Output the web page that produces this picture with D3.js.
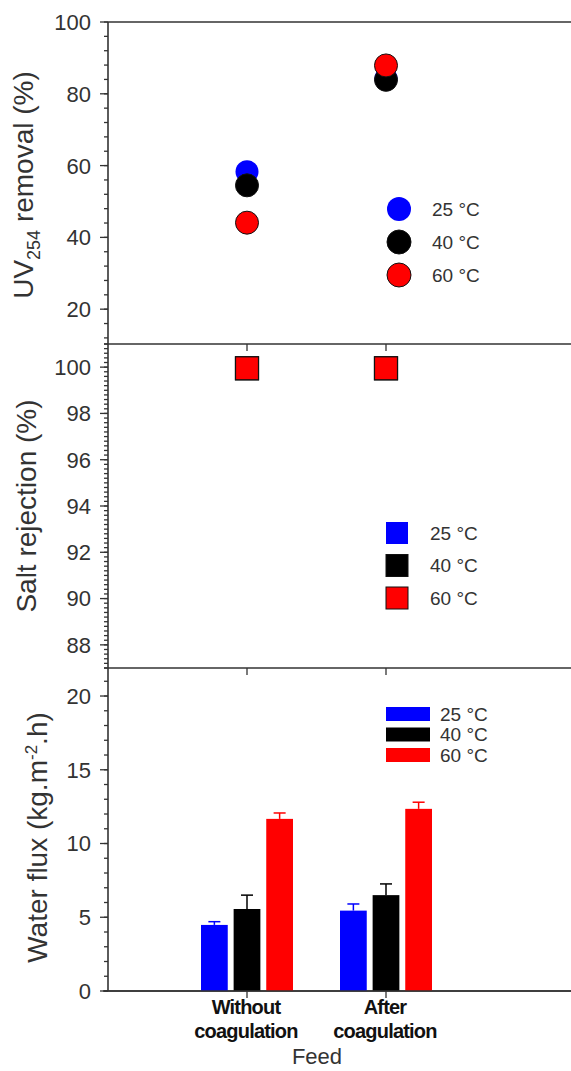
<!DOCTYPE html>
<html>
<head>
<meta charset="utf-8">
<script src="https://d3js.org/d3.v7.min.js"></script>
<style>
  body { margin: 0; background: #fff; }
  svg { display: block; font-family: "Liberation Sans", Arial, sans-serif; }
</style>
</head>
<body>
<div id="chart"></div>
<script>
// Feed categories and temperatures
const feeds = ['Without coagulation', 'After coagulation'];
const temps = ['25 °C', '40 °C', '60 °C'];
const tempColors = ['#0000ff', '#000000', '#ff0000'];

// UV254 removal (%) per feed, per temperature
const uvRemoval = [
  [58.3, 54.5, 44.1],
  [84.3, 83.9, 87.9]
];

// Salt rejection (%) per feed, per temperature
const saltRejection = [
  [99.95, 99.95, 99.95],
  [99.95, 99.95, 99.95]
];

// Water flux (kg.m-2.h) and upper error bar
const waterFlux = [
  [4.48, 5.56, 11.67],
  [5.45, 6.5, 12.35]
];
const fluxError = [
  [0.22, 0.94, 0.4],
  [0.45, 0.76, 0.45]
];

const width = 571, height = 1071;
const left = 108, right = 580;

const svg = d3.select('#chart').append('svg')
  .attr('width', width)
  .attr('height', height);

const x = d3.scalePoint().domain(feeds).range([247, 386]);

const panels = [
  { top: 22, bottom: 344, domain: [10.3, 100], majors: [20, 40, 60, 80, 100], minorStep: 4 },
  { top: 344, bottom: 668, domain: [87, 101], majors: [88, 90, 92, 94, 96, 98, 100], minorStep: 0.2 },
  { top: 668, bottom: 991, domain: [0, 21.9], majors: [0, 5, 10, 15, 20], minorStep: 1 }
];

panels.forEach(p => {
  p.y = d3.scaleLinear().domain(p.domain).range([p.bottom, p.top]);
});

function drawYAxis(p) {
  const g = svg.append('g');
  const minors = d3.range(Math.ceil(p.domain[0] / p.minorStep), Math.floor(p.domain[1] / p.minorStep) + 1)
    .map(i => +(i * p.minorStep).toFixed(4));
  g.selectAll('line.minor').data(minors).join('line')
    .attr('x1', left - 4).attr('x2', left)
    .attr('y1', d => p.y(d)).attr('y2', d => p.y(d))
    .attr('stroke', '#333').attr('stroke-width', 1.3);
  g.selectAll('line.major').data(p.majors).join('line')
    .attr('x1', left - 8).attr('x2', left)
    .attr('y1', d => p.y(d)).attr('y2', d => p.y(d))
    .attr('stroke', '#333').attr('stroke-width', 1.3);
  g.selectAll('text').data(p.majors).join('text')
    .attr('x', left - 17).attr('y', d => p.y(d))
    .attr('dy', '0.36em')
    .attr('text-anchor', 'end')
    .style('font-size', '22px')
    .style('fill', '#333')
    .text(d => d);
  g.append('line')
    .attr('x1', left).attr('x2', left)
    .attr('y1', p.top).attr('y2', p.bottom)
    .attr('stroke', '#333').attr('stroke-width', 1.6);
  // bottom axis line with ticks pointing down
  g.append('line')
    .attr('x1', left - 4).attr('x2', right)
    .attr('y1', p.bottom).attr('y2', p.bottom)
    .attr('stroke', '#333').attr('stroke-width', 1.6);
  g.selectAll('line.xt').data(feeds).join('line')
    .attr('x1', d => x(d)).attr('x2', d => x(d))
    .attr('y1', p.bottom).attr('y2', p.bottom + 7)
    .attr('stroke', '#333').attr('stroke-width', 1.3);
}

panels.forEach(drawYAxis);

// top frame line
svg.append('line')
  .attr('x1', left).attr('x2', right)
  .attr('y1', 22).attr('y2', 22)
  .attr('stroke', '#333').attr('stroke-width', 1.6);

// ---- Panel 1: UV254 removal (circles)
const p1 = panels[0];
const circleData = [];
feeds.forEach((f, i) => temps.forEach((t, j) => circleData.push({ feed: f, t: j, v: uvRemoval[i][j] })));
svg.append('g').selectAll('circle').data(circleData).join('circle')
  .attr('cx', d => x(d.feed))
  .attr('cy', d => p1.y(d.v))
  .attr('r', 11.5)
  .attr('fill', d => tempColors[d.t])
  .attr('stroke', d => d.t === 0 ? 'none' : '#111')
  .attr('stroke-width', 1);

const leg1 = svg.append('g').attr('transform', 'translate(399, 209)');
leg1.selectAll('circle').data(temps).join('circle')
  .attr('cx', 0).attr('cy', (d, i) => i * 33)
  .attr('r', 12)
  .attr('fill', (d, i) => tempColors[i])
  .attr('stroke', (d, i) => i === 0 ? 'none' : '#111');
leg1.selectAll('text').data(temps).join('text')
  .attr('x', 33).attr('y', (d, i) => i * 33)
  .attr('dy', '0.36em')
  .style('font-size', '19px').style('fill', '#333')
  .text(d => d);

svg.append('text')
  .attr('transform', `translate(33, ${(p1.top + p1.bottom) / 2 + 2}) rotate(-90)`)
  .attr('text-anchor', 'middle')
  .style('font-size', '28px').style('fill', '#333')
  .call(t => {
    t.append('tspan').text('UV');
    t.append('tspan').attr('dy', 7).style('font-size', '18px').text('254');
    t.append('tspan').attr('dy', -7).text(' removal (%)');
  });

// ---- Panel 2: Salt rejection (squares)
const p2 = panels[1];
const squareData = [];
feeds.forEach((f, i) => temps.forEach((t, j) => squareData.push({ feed: f, t: j, v: saltRejection[i][j] })));
const sq = 23;
svg.append('g').selectAll('rect').data(squareData).join('rect')
  .attr('x', d => x(d.feed) - sq / 2)
  .attr('y', d => p2.y(d.v) - sq / 2)
  .attr('width', sq).attr('height', sq)
  .attr('fill', d => tempColors[d.t])
  .attr('stroke', d => d.t === 0 ? 'none' : '#111')
  .attr('stroke-width', 1.2);

const leg2 = svg.append('g').attr('transform', 'translate(397, 533)');
leg2.selectAll('rect').data(temps).join('rect')
  .attr('x', -11).attr('y', (d, i) => i * 32.5 - 11)
  .attr('width', 22).attr('height', 22)
  .attr('fill', (d, i) => tempColors[i])
  .attr('stroke', (d, i) => i === 0 ? 'none' : '#111');
leg2.selectAll('text').data(temps).join('text')
  .attr('x', 33).attr('y', (d, i) => i * 32.5)
  .attr('dy', '0.36em')
  .style('font-size', '19px').style('fill', '#333')
  .text(d => d);

svg.append('text')
  .attr('transform', `translate(36, ${(p2.top + p2.bottom) / 2}) rotate(-90)`)
  .attr('text-anchor', 'middle')
  .style('font-size', '28px').style('fill', '#333')
  .text('Salt rejection (%)');

// ---- Panel 3: Water flux (bars)
const p3 = panels[2];
const xb = d3.scaleBand().domain(d3.range(temps.length)).range([-46, 46]).paddingInner(0.18);
const barData = [];
feeds.forEach((f, i) => temps.forEach((t, j) => barData.push({ feed: f, t: j, v: waterFlux[i][j], e: fluxError[i][j] })));

const bars = svg.append('g');
bars.selectAll('rect').data(barData).join('rect')
  .attr('x', d => x(d.feed) + xb(d.t))
  .attr('y', d => p3.y(d.v))
  .attr('width', xb.bandwidth())
  .attr('height', d => p3.y(0) - p3.y(d.v))
  .attr('fill', d => tempColors[d.t]);
bars.selectAll('line.err').data(barData).join('line')
  .attr('x1', d => x(d.feed) + xb(d.t) + xb.bandwidth() / 2)
  .attr('x2', d => x(d.feed) + xb(d.t) + xb.bandwidth() / 2)
  .attr('y1', d => p3.y(d.v)).attr('y2', d => p3.y(d.v + d.e))
  .attr('stroke', d => tempColors[d.t]).attr('stroke-width', 1.5);
bars.selectAll('line.cap').data(barData).join('line')
  .attr('x1', d => x(d.feed) + xb(d.t) + xb.bandwidth() / 2 - 6)
  .attr('x2', d => x(d.feed) + xb(d.t) + xb.bandwidth() / 2 + 6)
  .attr('y1', d => p3.y(d.v + d.e)).attr('y2', d => p3.y(d.v + d.e))
  .attr('stroke', d => tempColors[d.t]).attr('stroke-width', 1.5);

// redraw bottom axis line over bars
svg.append('line')
  .attr('x1', 103).attr('x2', right)
  .attr('y1', p3.bottom).attr('y2', p3.bottom)
  .attr('stroke', '#333').attr('stroke-width', 1.6);

const leg3 = svg.append('g').attr('transform', 'translate(386, 707)');
leg3.selectAll('rect').data(temps).join('rect')
  .attr('x', 0).attr('y', (d, i) => i * 20.5)
  .attr('width', 44).attr('height', 14)
  .attr('fill', (d, i) => tempColors[i]);
leg3.selectAll('text').data(temps).join('text')
  .attr('x', 54).attr('y', (d, i) => i * 20.5 + 7)
  .attr('dy', '0.36em')
  .style('font-size', '19px').style('fill', '#333')
  .text(d => d);

svg.append('text')
  .attr('transform', `translate(47, ${(p3.top + p3.bottom) / 2 + 8}) rotate(-90)`)
  .attr('text-anchor', 'middle')
  .style('font-size', '28px').style('fill', '#333')
  .call(t => {
    t.append('tspan').text('Water flux (kg.m');
    t.append('tspan').attr('dy', -10).style('font-size', '17px').text('-2');
    t.append('tspan').attr('dy', 10).text('.h)');
  });

// category labels
const catLines = { 'Without coagulation': ['Without', 'coagulation'], 'After coagulation': ['After', 'coagulation'] };
const cats = svg.append('g');
feeds.forEach(f => {
  const t = cats.append('text')
    .attr('y', 1014)
    .attr('text-anchor', 'middle')
    .style('font-size', '20px').style('font-weight', 'bold')
    .style('letter-spacing', '-0.8px')
    .style('fill', '#111');
  catLines[f].forEach((l, i) => {
    t.append('tspan').attr('x', x(f) - 1).attr('dy', i === 0 ? 0 : 24).text(l);
  });
});

svg.append('text')
  .attr('x', 317).attr('y', 1064)
  .attr('text-anchor', 'middle')
  .style('font-size', '22px').style('fill', '#333')
  .text('Feed');
</script>
</body>
</html>
